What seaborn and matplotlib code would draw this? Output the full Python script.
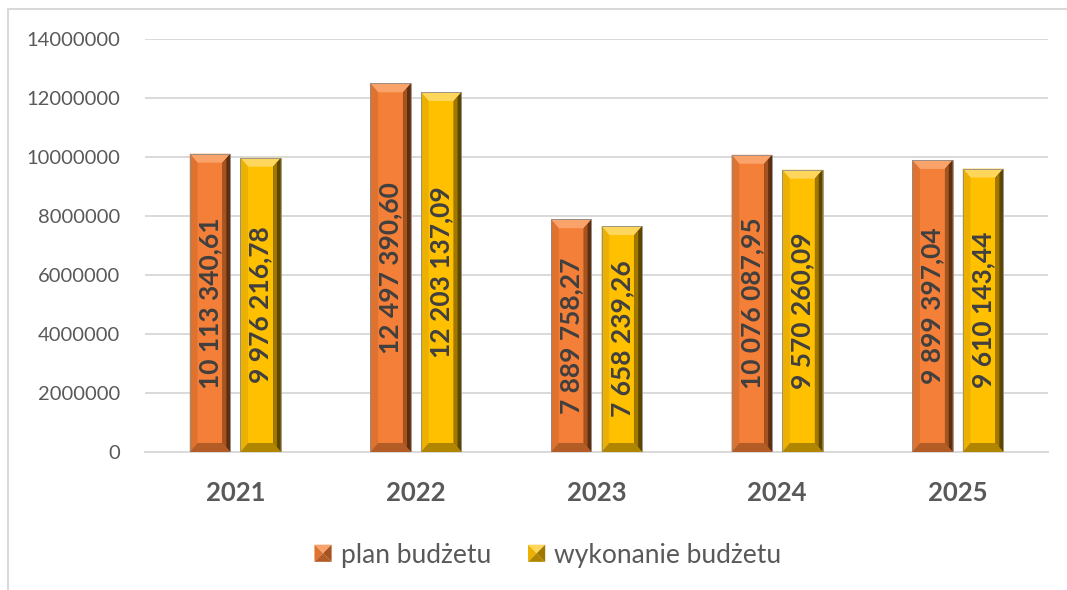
import pandas as pd
import numpy as np
import seaborn as sns
import matplotlib.pyplot as plt
from matplotlib.patches import Polygon, Patch, Rectangle
from matplotlib.legend_handler import HandlerBase

# dane
lata = ['2021', '2022', '2023', '2024', '2025']
plan = [10113340.61, 12497390.60, 7889758.27, 10076087.95, 9899397.04]
wykonanie = [9976216.78, 12203137.09, 7658239.26, 9570260.09, 9610143.44]
serie = ['plan budżetu', 'wykonanie budżetu']

df = pd.DataFrame({
    'rok': lata * 2,
    'kwota': plan + wykonanie,
    'seria': [serie[0]] * len(lata) + [serie[1]] * len(lata),
})

kolory = {serie[0]: '#F47F38', serie[1]: '#FFC000'}
# fazowanie krawedzi: gora, lewa, prawa (zewn.), prawa (wewn.), dol
bevel = {
    serie[0]: ['#F9A26A', '#E0722F', '#5E2E0F', '#A5531F', '#B35C26'],
    serie[1]: ['#FFD65C', '#EBB000', '#5E4600', '#A07800', '#B08500'],
}


def fmt_pl(v):
    s = f'{v:,.2f}'
    return s.replace(',', ' ').replace('.', ',')


class PiramidaHandler(HandlerBase):
    # kwadrat w legendzie w stylu fazowanego slupka
    def create_artists(self, legend, orig_handle, xd, yd, width, height, fontsize, trans):
        nazwa = orig_handle.get_label()
        g, l, p, pw, d = bevel[nazwa]
        s = min(width, height)
        x0 = xd * -1 + (width - s) / 2
        y0 = yd * -1 + (height - s) / 2
        cx, cy = x0 + s / 2, y0 + s / 2
        tl, tr = (x0, y0 + s), (x0 + s, y0 + s)
        bl, br = (x0, y0), (x0 + s, y0)
        out = []
        for pts, c in [([tl, tr, (cx, cy)], g), ([tl, bl, (cx, cy)], l),
                       ([tr, br, (cx, cy)], pw), ([bl, br, (cx, cy)], d)]:
            out.append(Polygon(pts, closed=True, facecolor=c, edgecolor='none', transform=trans))
        return out


sns.set_style('white')
plt.rcParams['font.family'] = ['Lato', 'DejaVu Sans']

fig = plt.figure(figsize=(10.67, 5.9), dpi=100)
ax = fig.add_axes([145 / 1067, 1 - 452 / 590, (1048 - 145) / 1067, (452 - 39) / 590])

sns.barplot(data=df, x='rok', y='kwota', hue='seria', palette=kolory, saturation=1,
            width=0.56, gap=0.2, ax=ax, legend=False, zorder=3,
            edgecolor='none', linewidth=0)

ymax = 14000000
ax.set_ylim(0, ymax)
ax.set_yticks(np.arange(0, ymax + 1, 2000000))
ax.set_yticklabels([f'{int(t)}' for t in np.arange(0, ymax + 1, 2000000)])
ax.grid(axis='y', color='#D9D9D9', linewidth=1.4, zorder=0)
ax.set_axisbelow(True)
for s in ['top', 'right', 'left']:
    ax.spines[s].set_visible(False)
ax.spines['bottom'].set_color('#D9D9D9')
ax.spines['bottom'].set_linewidth(1.4)
ax.tick_params(axis='y', length=0, pad=18, labelsize=14.5, labelcolor='#595959')
ax.tick_params(axis='x', length=0, pad=21, labelsize=18.5, labelcolor='#595959')
for t in ax.get_xticklabels():
    t.set_fontweight('bold')
ax.set_xlabel('')
ax.set_ylabel('')

# wysokosc fazy w jednostkach danych (~8 px)
px_per_y = (452 - 39) / ymax
for cont, nazwa in zip(ax.containers, serie):
    g, l, p, pw, d = bevel[nazwa]
    for bar in cont:
        x0 = bar.get_x()
        w = bar.get_width()
        h = bar.get_height()
        x1 = x0 + w
        dx = w * 0.19
        dy = 9 / px_per_y
        polys = [
            ([(x0, h), (x1, h), (x1 - dx, h - dy), (x0 + dx, h - dy)], g),
            ([(x0, 0), (x0, h), (x0 + dx, h - dy), (x0 + dx, dy)], l),
            ([(x1, 0), (x1, h), (x1 - dx, h - dy), (x1 - dx, dy)], p),
            ([(x1 - dx / 2, dy / 2), (x1 - dx / 2, h - dy / 2), (x1 - dx, h - dy), (x1 - dx, dy)], pw),
            ([(x0, 0), (x1, 0), (x1 - dx, dy), (x0 + dx, dy)], d),
        ]
        for pts, c in polys:
            ax.add_patch(Polygon(pts, closed=True, facecolor=c, edgecolor='none', zorder=4))
        ax.add_patch(Rectangle((x0, 0), w, h, fill=False, edgecolor='#8C8C8C',
                               linewidth=0.6, zorder=5))
        ax.text(x0 + w / 2, h / 2, fmt_pl(h), rotation=90, ha='center', va='center',
                fontsize=19, fontweight='bold', color='#404040', zorder=6)

handles = [Patch(facecolor=kolory[s], label=s) for s in serie]
fig.legend(handles, serie, loc='center', bbox_to_anchor=(548 / 1067, 1 - 555 / 590), ncol=2,
           frameon=False, fontsize=19, labelcolor='#595959', handlelength=0.65,
           handleheight=0.7, handletextpad=0.35, columnspacing=1.4,
           handler_map={Patch: PiramidaHandler()})

# ramka obszaru wykresu
fig.patches.append(Rectangle((8 / 1067, -0.05), 1.2, 1 - 9 / 590 + 0.05, transform=fig.transFigure,
                             fill=False, edgecolor='#D9D9D9', linewidth=1.5, zorder=0))

fig.savefig('out.png', dpi=100)
